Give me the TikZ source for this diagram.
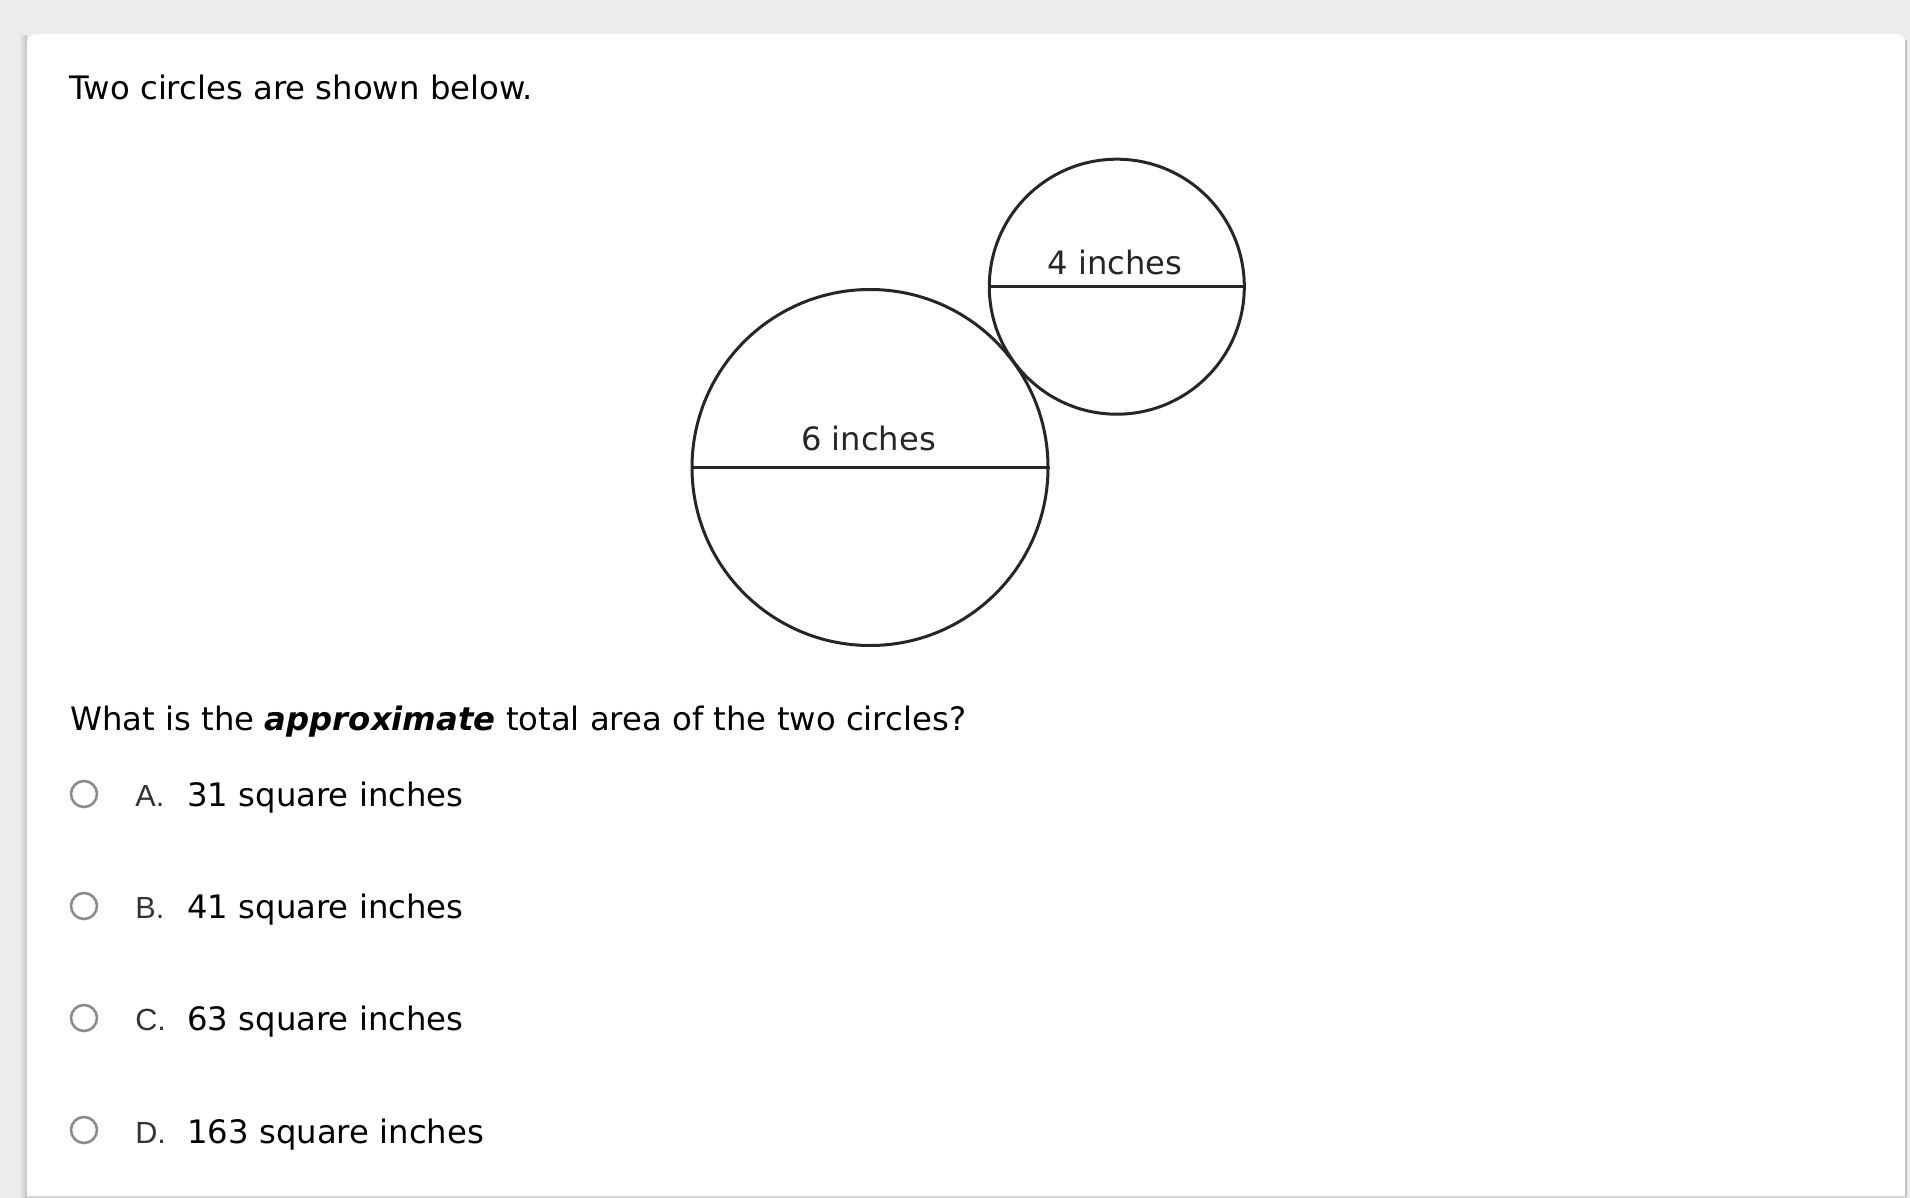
\documentclass[tikz,border=0pt]{standalone}
\usepackage{fontspec}
\setmainfont{DejaVu Sans}
\newfontfamily\letterfont{Liberation Sans}
\definecolor{bgcol}{HTML}{EDEDED}
\definecolor{shadecol}{HTML}{C4C4C4}
\definecolor{radiocol}{HTML}{8A8A8A}
\definecolor{lettercol}{HTML}{333333}
\definecolor{figtext}{HTML}{262626}
\tikzset{
  maintext/.style={anchor=base west, inner sep=0pt, font=\fontsize{16.15pt}{19pt}\selectfont, text=black},
  figlabel/.style={anchor=base, inner sep=0pt, font=\fontsize{16.1pt}{19pt}\selectfont, text=figtext},
  shape line/.style={draw=black!85, line width=1.5pt},
  radio/.style={circle, draw=radiocol, line width=1.3pt, minimum size=13pt, inner sep=0pt},
  optletter/.style={anchor=base west, inner sep=0pt, font=\letterfont\fontsize{15.3pt}{18pt}\selectfont, text=lettercol},
}
\begin{document}
\begin{tikzpicture}[x=0.5pt, y=-0.5pt]
  % page background and card
  \useasboundingbox (0,0) rectangle (1910,1198);
  \fill[bgcol] (0,0) rectangle (1910,1198);
  \shade[left color=bgcol, right color=shadecol] (19,36) rectangle (27,1198);
  \fill[white, rounded corners=5pt] (27,34) rectangle (1906,1230);
  \draw[shadecol, line width=1pt] (1906,40) -- (1906,1198);
  \draw[shadecol!70, line width=1pt] (27,1197) -- (1906,1197);

  % title
  \node[maintext] (title) at (69,100) {Two circles are shown below.};

  % figure
  \node[circle, shape line, minimum size=178pt, inner sep=0pt] (big) at (870,467.5) {};
  \node[circle, shape line, minimum size=127.5pt, inner sep=0pt] (small) at (1116.8,286.7) {};
  \draw[shape line] (big.west) -- (big.east);
  \draw[shape line] (small.west) -- (small.east);
  \node[figlabel] (bl) at (868.5,450) {6 inches};
  \node[figlabel] (sl) at (1115,274) {4 inches};

  % question
  \node[maintext] (q) at (70,730) {What is the \textbf{\textit{approximate}} total area of the two circles?};

  % options
  \node[radio] (ra) at (84,794) {};
  \node[radio] (rb) at (84,906) {};
  \node[radio] (rc) at (84,1018) {};
  \node[radio] (rd) at (84,1130) {};
  \node[optletter] (la) at (135,806) {A.};
  \node[optletter] (lb) at (135,918) {B.};
  \node[optletter] (lc) at (135,1030) {C.};
  \node[optletter] (ld) at (135,1143) {D.};
  \node[maintext] (ta) at (187,806) {31 square inches};
  \node[maintext] (tb) at (187,918) {41 square inches};
  \node[maintext] (tc) at (187,1030) {63 square inches};
  \node[maintext] (td) at (187,1143) {163 square inches};
\end{tikzpicture}
\end{document}
